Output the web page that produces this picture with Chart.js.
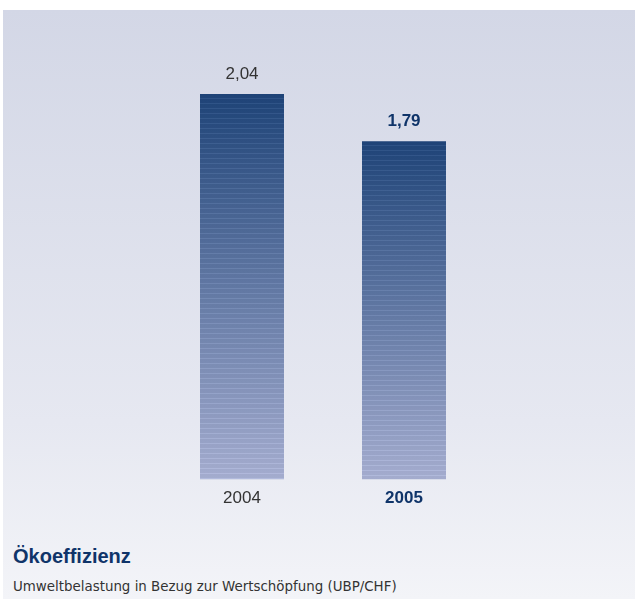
<!DOCTYPE html>
<html>
<head>
<meta charset="utf-8">
<script src="https://cdn.jsdelivr.net/npm/chart.js@4"></script>
<style>
  body { margin: 0; background: #fff; }
  #panel {
    position: absolute; left: 3px; top: 10px; width: 632px; height: 589px;
    background: linear-gradient(#d3d7e6, #e6e8f1 70%, #f3f4f8);
  }
  #wrap { position: absolute; left: 0; top: 0; width: 636px; height: 520px; }
  .title {
    position: absolute; left: 13px; top: 546px; margin: 0;
    font: bold 20px "Liberation Sans", Arial, sans-serif; line-height: 20px;
    color: #0f3469;
  }
  .sub {
    position: absolute; left: 13px; top: 580px; margin: 0;
    font: 13.4px "DejaVu Sans", sans-serif; line-height: 13px;
    color: #333;
  }
</style>
</head>
<body>
<div id="panel"></div>
<div id="wrap"><canvas id="myChart" width="636" height="520"></canvas></div>
<div class="title">Ökoeffizienz</div>
<div class="sub">Umweltbelastung in Bezug zur Wertschöpfung (UBP/CHF)</div>
<script>
const years = ['2004', '2005'];
const values = [2.04, 1.79];
const valueLabels = ['2,04', '1,79'];

const navy = '#0f3469';
const grey = '#333333';

// top -> bottom colours of the bars
const topCol = [30, 67, 119];
const botCol = [164, 172, 206];

function mix(t, lift) {
  const c = topCol.map((v, i) => Math.round(v + (botCol[i] - v) * t + lift));
  return 'rgb(' + c.join(',') + ')';
}

function barFill(context) {
  const chart = context.chart;
  if (!chart.chartArea) return mix(0, 0);
  const y = chart.scales.y;
  const y0 = y.getPixelForValue(values[context.dataIndex]);
  const y1 = y.getPixelForValue(0);
  const h = y1 - y0;
  const g = chart.ctx.createLinearGradient(0, y0, 0, y1);
  // thin lighter lines across the bar
  for (let p = 0; p < h; p += 5) {
    const a = p / h, b = Math.min((p + 4) / h, 1), c = Math.min((p + 5) / h, 1);
    g.addColorStop(a, mix(a, 0));
    g.addColorStop(b, mix(b, 0));
    g.addColorStop(b, mix(b, 14));
    g.addColorStop(c, mix(c, 14));
  }
  return g;
}

const valuePlugin = {
  id: 'values',
  afterDatasetsDraw(chart) {
    const ctx = chart.ctx;
    const meta = chart.getDatasetMeta(0);
    ctx.save();
    ctx.textAlign = 'center';
    ctx.textBaseline = 'alphabetic';
    meta.data.forEach((bar, i) => {
      ctx.font = (i === 1 ? 'bold ' : '') + '17px "Liberation Sans", Arial, sans-serif';
      ctx.fillStyle = i === 1 ? navy : grey;
      ctx.fillText(valueLabels[i], bar.x, bar.y - 15);
    });
    ctx.restore();
  }
};

const ctx = document.getElementById('myChart');

new Chart(ctx, {
  type: 'bar',
  data: {
    labels: years,
    datasets: [{
      data: values,
      backgroundColor: barFill,
      borderWidth: 0,
      barPercentage: 1,
      categoryPercentage: 0.5185
    }]
  },
  options: {
    responsive: false,
    animation: false,
    layout: { padding: { left: 161, right: 151, top: 7, bottom: 2 } },
    plugins: { legend: { display: false }, tooltip: { enabled: false } },
    scales: {
      x: {
        grid: { display: false, drawTicks: false },
        border: { display: false },
        ticks: {
          padding: 9,
          color: (c) => c.index === 1 ? navy : grey,
          font: (c) => ({ family: '"Liberation Sans", Arial, sans-serif', size: 17, weight: c.index === 1 ? 'bold' : 'normal' })
        }
      },
      y: { display: false, min: 0, max: 2.5 }
    }
  },
  plugins: [valuePlugin]
});
</script>
</body>
</html>
